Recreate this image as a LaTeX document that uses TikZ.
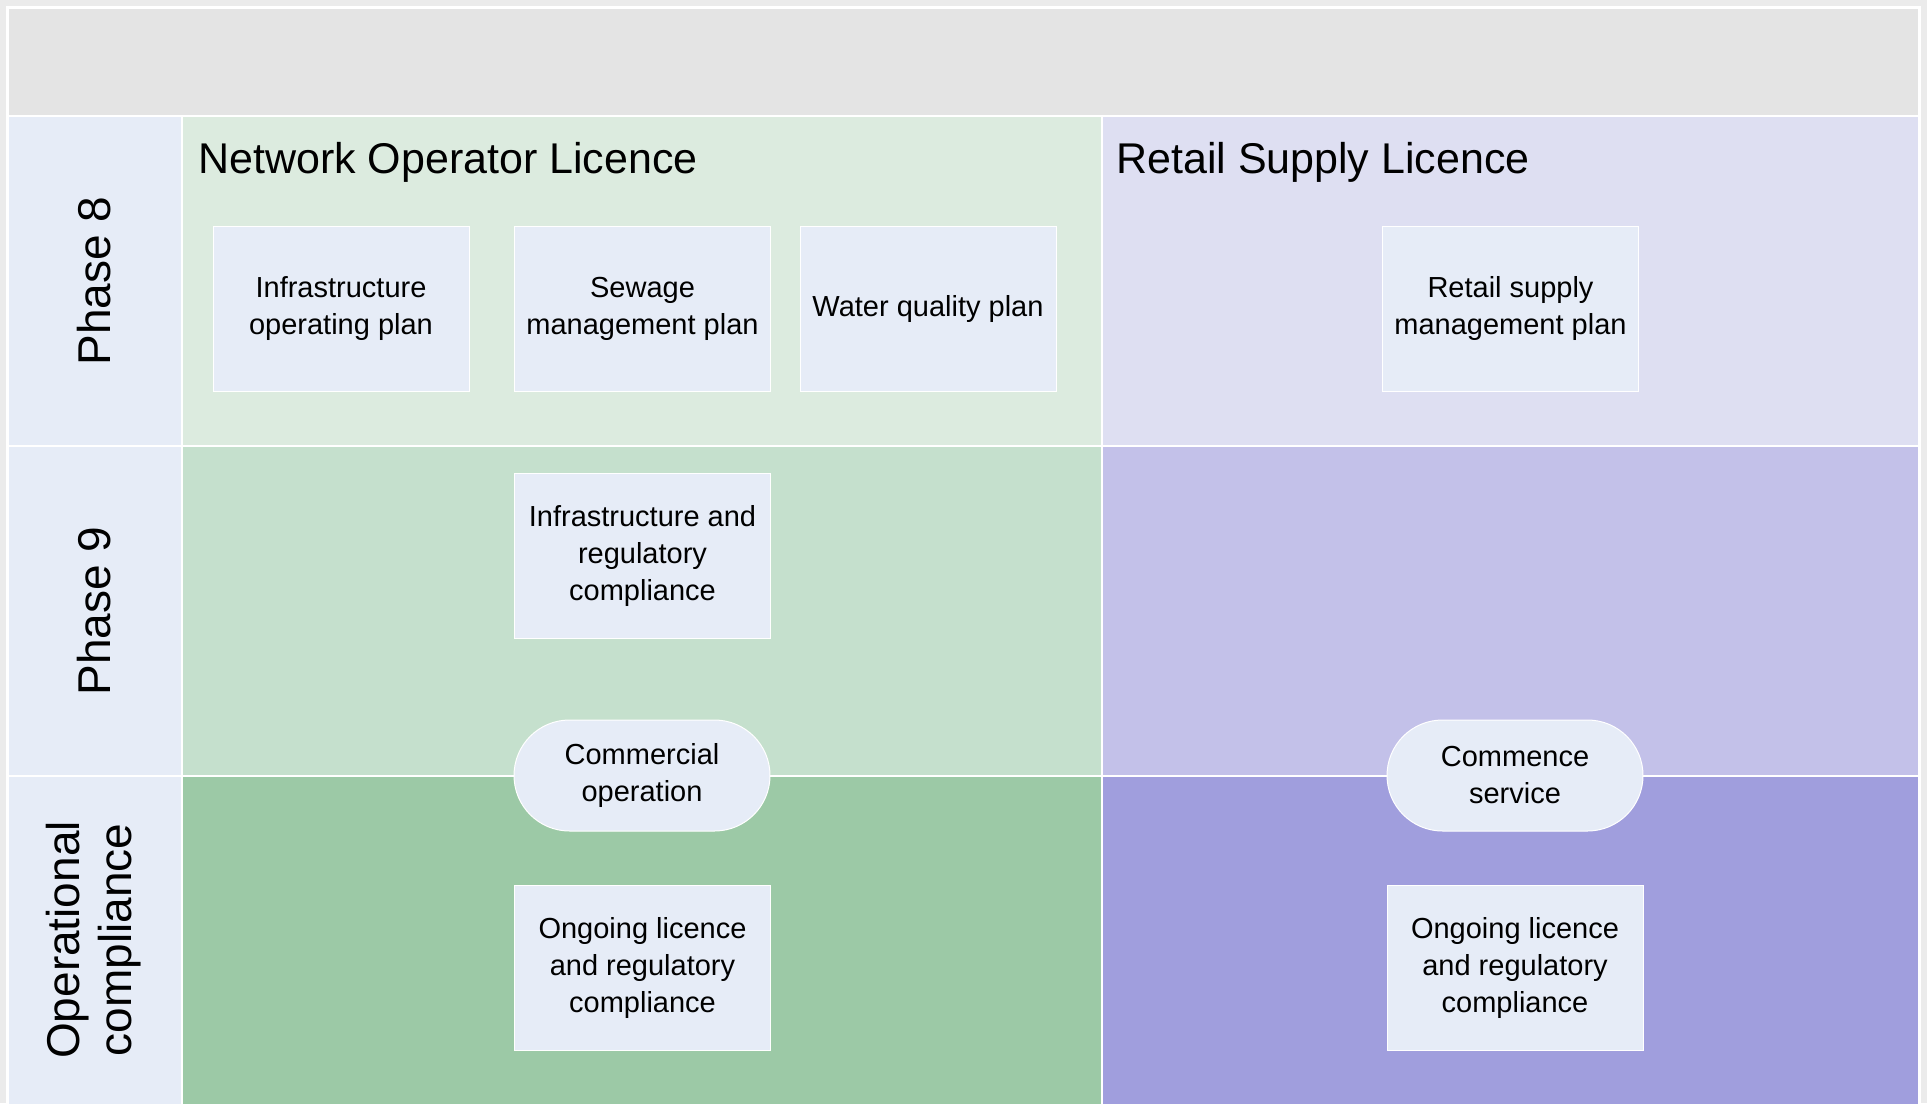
\documentclass[tikz,border=0pt]{standalone}
\usepackage{fontspec}
\setmainfont{Liberation Sans}
\usetikzlibrary{shapes.misc}

\definecolor{margingrey}{HTML}{EBEBEB}
\definecolor{headgrey}{HTML}{E4E4E4}
\definecolor{laneblue}{HTML}{E6ECF7}
\definecolor{greenA}{HTML}{DCEBDF}
\definecolor{greenB}{HTML}{C5E0CD}
\definecolor{greenC}{HTML}{9CC9A6}
\definecolor{purpleA}{HTML}{DEDFF2}
\definecolor{purpleB}{HTML}{C3C1E9}
\definecolor{purpleC}{HTML}{A09EDD}

\tikzset{
	plan/.style={rectangle, fill=laneblue, draw=white, line width=1pt, minimum width=256pt, minimum height=165pt, inner sep=0pt, align=center, font=\fontsize{29}{37}\selectfont},
	milestone/.style={rounded rectangle, fill=laneblue, draw=white, line width=1pt, minimum width=256pt, minimum height=111pt, inner sep=0pt, align=center, font=\fontsize{29}{37}\selectfont},
	lanetitle/.style={anchor=base west, inner sep=0pt, font=\fontsize{43}{50}\selectfont},
	phaselabel/.style={rotate=90, align=center, font=\fontsize{46}{52}\selectfont}
}

\begin{document}
\begin{tikzpicture}[x=1pt, y=-1pt]
	%%%%% FRAME %%%%%
	\useasboundingbox (0, 0) rectangle (1927, 1103);
	\fill[margingrey] (0, 0) rectangle (1927, 1103);
	\fill[white] (6, 6) rectangle (1921, 1110);
	\fill[headgrey] (9, 9) rectangle (1918, 115);
	
	%%%%% LANES %%%%%
	\fill[laneblue] (9, 116.5) rectangle (180.5, 445);
	\fill[laneblue] (9, 446.5) rectangle (180.5, 775);
	\fill[laneblue] (9, 776.5) rectangle (180.5, 1110);
	
	\fill[greenA] (183, 116.5) rectangle (1101, 445);
	\fill[greenB] (183, 446.5) rectangle (1101, 775);
	\fill[greenC] (183, 776.5) rectangle (1101, 1110);
	
	\fill[purpleA] (1102.5, 116.5) rectangle (1918, 445);
	\fill[purpleB] (1102.5, 446.5) rectangle (1918, 775);
	\fill[purpleC] (1102.5, 776.5) rectangle (1918, 1110);
	
	\node[phaselabel] (phase8) at (94, 281) {Phase 8};
	\node[phaselabel] (phase9) at (94, 611) {Phase 9};
	\node[phaselabel] (opcomp) at (94, 940) {Operational\\compliance};
	
	\node[lanetitle] (network) at (198, 173) {Network Operator Licence};
	\node[lanetitle] (retail) at (1116, 173) {Retail Supply Licence};
	
	%%%%% PHASE 8 %%%%%
	\node[plan] (infraplan) at (341, 308.5) {Infrastructure\\operating plan};
	\node[plan] (sewage) at (642.5, 308.5) {Sewage\\management plan};
	\node[plan] (water) at (928, 308.5) {Water quality plan};
	\node[plan] (retailplan) at (1510.5, 308.5) {Retail supply\\management plan};
	
	%%%%% PHASE 9 %%%%%
	\node[plan] (infracomp) at (642.5, 555.5) {Infrastructure and\\regulatory\\compliance};
	\node[milestone] (commercial) at (642, 775.5) {Commercial\\operation};
	\node[milestone] (commence) at (1515, 775.5) {Commence\\service};
	
	%%%%% OPERATIONAL %%%%%
	\node[plan] (ongoingnet) at (642.5, 967.5) {Ongoing licence\\and regulatory\\compliance};
	\node[plan] (ongoingret) at (1515, 967.5) {Ongoing licence\\and regulatory\\compliance};
\end{tikzpicture}
\end{document}
